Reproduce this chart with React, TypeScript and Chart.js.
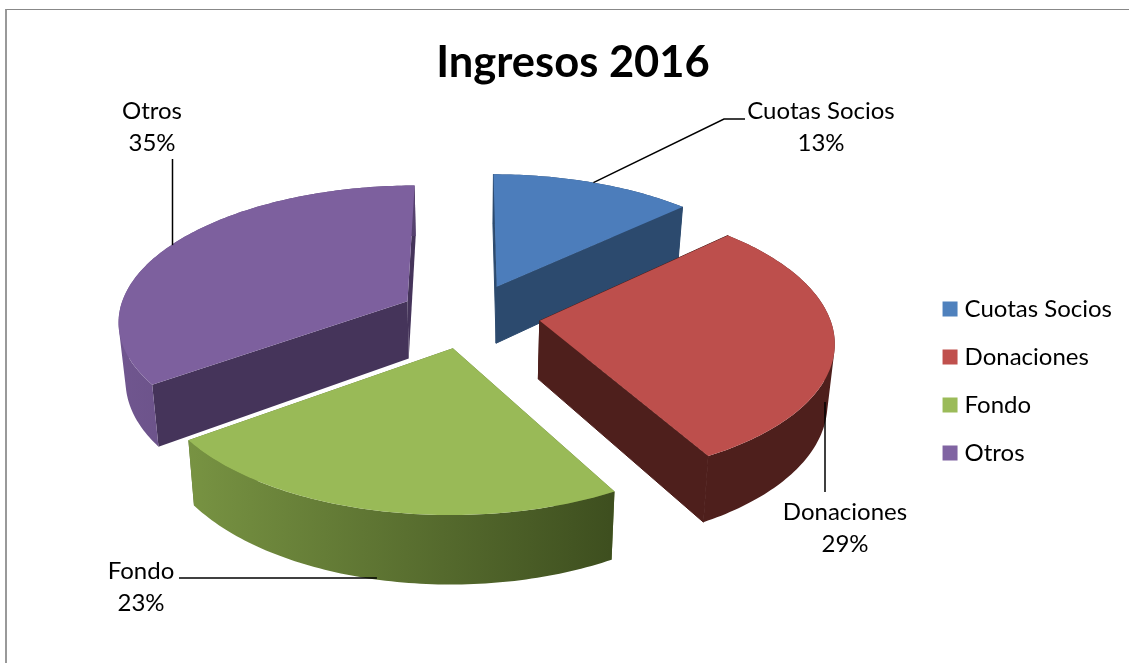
import React, { useEffect, useRef } from "react";
import { Chart, registerables } from "chart.js";

Chart.register(...registerables);

const categories = ["Cuotas Socios", "Donaciones", "Fondo", "Otros"];
const shares = [13, 29, 23, 35];
const topColors = ["#4c7dbb", "#bd4f4c", "#99ba57", "#7d609e"];
const legendColors = ["#4f81bd", "#c0504d", "#9bbb59", "#8064a2"];
const sideColors = ["#2c4a6e", "#4e1f1c", "#5a7030", "#45345a"];
const rimLight = ["#2c4a6e", "#4e1f1c", "#819e48", "#70568f"];
const rimDark = ["#2c4a6e", "#4e1f1c", "#3e4f1f", "#45345a"];

const FONT = "Lato";
const view = { cx: 468.5, cy: 315.7, rx: 289.4, ry: 134.8, p: 0.134, depth: 58, explode: 0.24, shrink: 0.98 };
const sliceShift = [0.005, 0.008, 0, 0];

function project(u: number, v: number, low: boolean) {
  const w = 1 - view.p * v;
  const sx = low ? view.shrink : 1;
  return {
    x: view.cx + (sx * view.rx * u) / w,
    y: view.cy + (view.ry * v) / w + (low ? view.depth / w : 0),
  };
}

const pie3d = {
  id: "pie3d",
  beforeDatasetsDraw(chart: any) {
    const ctx = chart.ctx;
    const arcs = chart.getDatasetMeta(0).data;
    const order = [0, 3, 1, 2];
    const geom = arcs.map((arc: any, i: number) => {
      const { startAngle, endAngle } = arc.getProps(["startAngle", "endAngle"], true);
      const mid = (startAngle + endAngle) / 2;
      return {
        startAngle,
        endAngle,
        mid,
        ou: view.explode * Math.cos(mid) + sliceShift[i],
        ov: view.explode * Math.sin(mid),
      };
    });
    chart.$geom = geom;
    order.forEach((i) => {
      const g = geom[i];
      const n = Math.max(8, Math.ceil(((g.endAngle - g.startAngle) * 180) / Math.PI));
      const rim = (k: number, low: boolean) => {
        const a = g.startAngle + ((g.endAngle - g.startAngle) * k) / n;
        return project(g.ou + Math.cos(a), g.ov + Math.sin(a), low);
      };
      const apexT = project(g.ou, g.ov, false);
      const apexB = project(g.ou, g.ov, true);
      // flat side walls
      ctx.fillStyle = sideColors[i];
      ctx.strokeStyle = sideColors[i];
      ctx.lineWidth = 1;
      [0, n].forEach((k) => {
        const t = rim(k, false);
        const b = rim(k, true);
        ctx.beginPath();
        ctx.moveTo(apexT.x, apexT.y);
        ctx.lineTo(t.x, t.y);
        ctx.lineTo(b.x, b.y);
        ctx.lineTo(apexB.x, apexB.y);
        ctx.closePath();
        ctx.fill();
        if (rimLight[i] === rimDark[i]) ctx.stroke();
      });
      // curved outer wall: one path of like-wound quads, filled once so no seams show
      const grad = ctx.createLinearGradient(120, 0, 610, 0);
      grad.addColorStop(0, rimLight[i]);
      grad.addColorStop(1, rimDark[i]);
      ctx.fillStyle = grad;
      ctx.beginPath();
      for (let k = 0; k < n; k++) {
        let q = [rim(k, false), rim(k + 1, false), rim(k + 1, true), rim(k, true)];
        let area = 0;
        q.forEach((a, j) => {
          const b = q[(j + 1) % 4];
          area += a.x * b.y - b.x * a.y;
        });
        if (area < 0) q = q.reverse();
        q.forEach((a, j) => (j ? ctx.lineTo(a.x, a.y) : ctx.moveTo(a.x, a.y)));
        ctx.closePath();
      }
      ctx.fill();
      // top face
      ctx.fillStyle = topColors[i];
      ctx.beginPath();
      ctx.moveTo(apexT.x, apexT.y);
      for (let k = 0; k <= n; k++) {
        const p = rim(k, false);
        ctx.lineTo(p.x, p.y);
      }
      ctx.closePath();
      ctx.fill();
    });
    return false;
  },
  afterDraw(chart: any) {
    const ctx = chart.ctx;
    const geom = chart.$geom;
    if (!geom) return;
    const point = (i: number, low: boolean) => {
      const g = geom[i];
      return project(g.ou + Math.cos(g.mid), g.ov + Math.sin(g.mid), low);
    };
    const c = point(0, false);
    const d = point(1, true);
    const f = point(2, true);
    const o = point(3, false);
    ctx.strokeStyle = "#000";
    ctx.lineWidth = 1.5;
    const line = (pts: number[][]) => {
      ctx.beginPath();
      pts.forEach((q, j) => (j ? ctx.lineTo(q[0], q[1]) : ctx.moveTo(q[0], q[1])));
      ctx.stroke();
    };
    line([[745, 119], [724, 119], [c.x, c.y]]);
    line([[825, d.y], [825, 492]]);
    line([[179, 578], [f.x, 578]]);
    line([[172.5, 159], [172.5, o.y]]);

    ctx.fillStyle = "#000";
    ctx.font = `24px ${FONT}`;
    ctx.textAlign = "center";
    ctx.textBaseline = "middle";
    const anchors = [
      [821, 111],
      [845, 512],
      [141, 571],
      [152, 111],
    ];
    categories.forEach((name, i) => {
      ctx.fillText(name, anchors[i][0], anchors[i][1]);
      ctx.fillText(`${shares[i]}%`, anchors[i][0], anchors[i][1] + 32);
    });
  },
};

export default function App() {
  const ref = useRef<HTMLCanvasElement>(null);
  useEffect(() => {
    const base = (Chart as any).overrides.pie.plugins.legend.labels.generateLabels;
    const chart = new Chart(ref.current as HTMLCanvasElement, {
      type: "pie",
      data: {
        labels: categories,
        datasets: [{ data: shares, backgroundColor: legendColors, borderWidth: 0 }],
      },
      options: {
        responsive: false,
        animation: false,
        layout: { padding: { top: 37, right: 7, bottom: 0, left: 24 } },
        plugins: {
          tooltip: { enabled: false },
          title: {
            display: true,
            text: "Ingresos 2016",
            color: "#000",
            font: { family: FONT, size: 43.5, weight: "bold" },
            padding: { top: 0, bottom: 10 },
          },
          legend: {
            position: "right",
            fullSize: false,
            labels: {
              color: "#000",
              font: { family: FONT, size: 24 },
              boxWidth: 5,
              boxHeight: 5,
              padding: 24,
              generateLabels: (c: any) =>
                base(c).map((l: any) => ({ ...l, strokeStyle: l.fillStyle, lineWidth: 10 })),
            },
          },
        },
      },
      plugins: [pie3d],
    } as any);
    return () => chart.destroy();
  }, []);
  return (
    <div style={{ position: "fixed", left: 0, top: 0, width: 1129, height: 663, background: "#fff", overflow: "hidden" }}>
      <div
        style={{
          position: "absolute",
          left: 5,
          top: 9,
          width: 1130,
          height: 660,
          borderTop: "1px solid #888",
          borderLeft: "2px solid #999",
        }}
      />
      <canvas ref={ref} width={1129} height={663} style={{ position: "absolute", left: 0, top: 0 }} />
    </div>
  );
}
